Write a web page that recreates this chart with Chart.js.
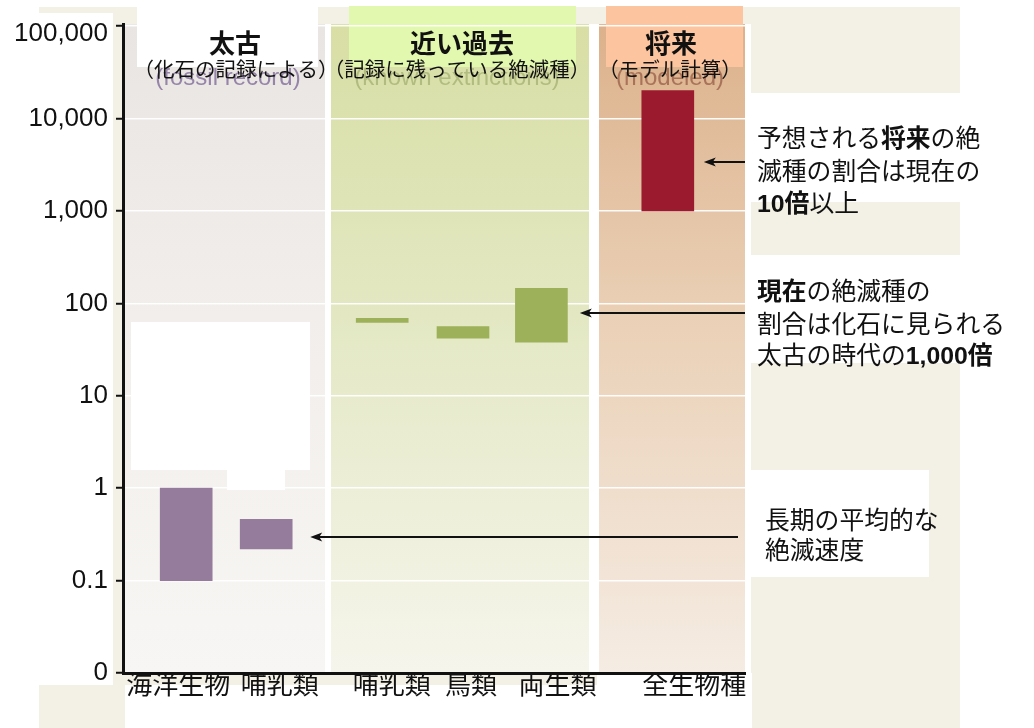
<!DOCTYPE html>
<html><head><meta charset="utf-8">
<script src="https://cdn.jsdelivr.net/npm/chart.js@4"></script>
<style>html,body{margin:0;padding:0;background:#fff}#wrap{width:1034px;height:728px;position:relative}canvas{display:block}</style>
</head><body><div id="wrap"><canvas id="c" width="1034" height="728"></canvas></div>
<script>
// ---- data ----
const categories = ['海洋生物','哺乳類','哺乳類','鳥類','両生類','全生物種'];
const barPositions = [0.79, 1.79, 3.24, 4.25, 5.23, 6.81];
const labelPositions = [0.69, 1.96, 3.36, 4.35, 5.43, 7.14];
const rateLow  = [0.1, 0.22, 62, 42, 38, 1000];
const rateHigh = [1.0, 0.46, 69, 56, 145, 20000];
const yTickValues = [0.01, 0.1, 1, 10, 100, 1000, 10000, 100000];
const yTickLabels = ['0', '0.1', '1', '10', '100', '1,000', '10,000', '100,000'];
const periods = ['太古', '近い過去', '将来'];
const periodNotes = ['（化石の記録による）', '（記録に残っている絶滅種）', '（モデル計算）'];
const periodGhost = ['(fossil record)', '(known extinctions)', '(modeled)'];
const periodStart = [0.0125, 2.6, 5.95];
const periodEnd = [2.525, 5.825, 7.775];
const arrowValues = [3400, 78, 0.295];
const arrowTips = [7.26, 5.71, 2.34];

// ---- styles ----
const FONT = '"Liberation Sans", Arial, "Noto Sans CJK JP", sans-serif';
const JFONT = '"Noto Sans CJK JP", "Liberation Sans", sans-serif';
const barColors = ['#967c9c','#967c9c','#9db05a','#9db05a','#9db05a','#9c1a2e'];
const bandStops = [
  ['#e9e5e2','#f1eeeb','#f8f6f4'],
  ['#d8dea4','#e3e8c3','#f6f5ec'],
  ['#dcb18b','#ead0b6','#f5ece3']
];
const headerBox = [
  {x:137,y:7,w:181,h:60,c:'#ffffff'},
  {x:349,y:6,w:227,h:61,c:'#e1f8ae'},
  {x:606,y:6,w:137,h:61,c:'#fcc59f'}
];
const headerCenters = [235, 462, 671];
const noteCenters = [236, 457, 670];
const ghostColors = ['rgba(120,100,150,0.75)','rgba(160,172,110,0.7)','rgba(150,92,70,0.75)'];
const BEIGE = '#f3f1e5';

function drawRich(ctx, x, y, segs, size) {
  ctx.textBaseline = 'middle';
  ctx.textAlign = 'left';
  ctx.fillStyle = '#111';
  for (const [t, b] of segs) {
    ctx.font = (b ? 'bold ' : '') + size + 'px ' + FONT;
    ctx.fillText(t, x, y);
    x += ctx.measureText(t).width;
  }
}
function arrow(ctx, x1, y, x2) {
  ctx.save();
  ctx.strokeStyle = '#111'; ctx.fillStyle = '#111'; ctx.lineWidth = 2;
  ctx.beginPath(); ctx.moveTo(x1, y); ctx.lineTo(x2 + 8, y); ctx.stroke();
  ctx.beginPath(); ctx.moveTo(x2, y); ctx.lineTo(x2 + 12, y - 4.5); ctx.lineTo(x2 + 9, y); ctx.lineTo(x2 + 12, y + 4.5); ctx.closePath(); ctx.fill();
  ctx.restore();
}

const decor = {
  id: 'decor',
  beforeDraw(chart) {
    const ctx = chart.ctx, a = chart.chartArea, xs = chart.scales.x;
    ctx.save();
    ctx.fillStyle = BEIGE; ctx.fillRect(39, 7, 921, 721);
    ctx.fillStyle = '#fff';
    ctx.fillRect(0, 13, 113, 672);
    ctx.fillRect(125, 685, 627, 43);
    ctx.fillRect(597, 673, 155, 12);
    ctx.fillRect(745, 93, 289, 109);
    ctx.fillRect(745, 255, 289, 108);
    ctx.fillRect(744, 470, 185, 107);
    ctx.fillRect(a.left, a.top, 751 - a.left, a.bottom - a.top);
    // bands
    for (let i = 0; i < periods.length; i++) {
      const x0 = xs.getPixelForValue(periodStart[i]), x1 = xs.getPixelForValue(periodEnd[i]);
      const g = ctx.createLinearGradient(0, a.top, 0, a.bottom);
      g.addColorStop(0, bandStops[i][0]); g.addColorStop(0.45, bandStops[i][1]); g.addColorStop(1, bandStops[i][2]);
      ctx.fillStyle = g; ctx.fillRect(x0, a.top, x1 - x0, a.bottom - a.top);
    }
    // ghost english subtitles
    ctx.textAlign = 'center'; ctx.textBaseline = 'alphabetic';
    for (let i = 0; i < periods.length; i++) {
      ctx.font = '24px ' + FONT; ctx.fillStyle = ghostColors[i];
      ctx.fillText(periodGhost[i], noteCenters[i] - 8 * (i === 0 ? 1 : 0), 85);
    }
    // header boxes + titles
    for (let i = 0; i < periods.length; i++) {
      const b = headerBox[i];
      ctx.fillStyle = b.c; ctx.fillRect(b.x, b.y, b.w, b.h);
    }
    ctx.fillStyle = '#111'; ctx.textBaseline = 'middle';
    for (let i = 0; i < periods.length; i++) {
      ctx.font = 'bold 26px ' + JFONT;
      ctx.fillText(periods[i], headerCenters[i], 43);
      ctx.font = '20.5px ' + JFONT;
      ctx.fillText(periodNotes[i], noteCenters[i], 69);
    }
    ctx.restore();
  },
  beforeDatasetsDraw(chart) {
    const ctx = chart.ctx;
    ctx.save(); ctx.fillStyle = '#fff';
    ctx.fillRect(131, 322, 179, 148);
    ctx.fillRect(227, 470, 58, 20);
    ctx.restore();
  },
  afterDraw(chart) {
    const ctx = chart.ctx, a = chart.chartArea, xs = chart.scales.x, ys = chart.scales.y;
    ctx.save();
    const starts = [a.right, a.right, a.right - 7];
    for (let i = 0; i < arrowValues.length; i++) {
      arrow(ctx, starts[i], Math.round(ys.getPixelForValue(arrowValues[i])), xs.getPixelForValue(arrowTips[i]));
    }
    const S = 24.8;
    drawRich(ctx, 757, 140, [['予想される', false], ['将来', true], ['の絶', false]], S);
    drawRich(ctx, 757, 173, [['滅種の割合は現在の', false]], S);
    drawRich(ctx, 757, 205, [['10倍', true], ['以上', false]], S);
    drawRich(ctx, 757, 293, [['現在', true], ['の絶滅種の', false]], S);
    drawRich(ctx, 757, 326, [['割合は化石に見られる', false]], S);
    drawRich(ctx, 757, 357, [['太古の時代の', false], ['1,000倍', true]], S);
    drawRich(ctx, 765, 522, [['長期の平均的な', false]], S);
    drawRich(ctx, 765, 552, [['絶滅速度', false]], S);
    ctx.restore();
  }
};

const lastY = yTickValues.length - 1;

new Chart(document.getElementById('c'), {
  type: 'bar',
  data: {
    datasets: [{
      data: barPositions.map((x, i) => ({ x: x, y: [rateLow[i], rateHigh[i]] })),
      backgroundColor: barColors,
      borderWidth: 0,
      barThickness: 52
    }]
  },
  options: {
    responsive: false,
    animation: false,
    devicePixelRatio: 1,
    layout: { padding: { top: 24, right: 289, left: 0, bottom: 0 } },
    plugins: { legend: { display: false }, tooltip: { enabled: false } },
    scales: {
      x: {
        type: 'linear', min: 0, max: 7.775, offset: false,
        afterBuildTicks: s => { s.ticks = labelPositions.map(v => ({ value: v })); },
        afterFit: s => { s.height = 55; },
        grid: { display: false, drawTicks: false, offset: false },
        border: { display: true, color: '#111', width: 3 },
        ticks: { autoSkip: false, maxRotation: 0, padding: -4, color: '#111',
          font: { size: 26, family: JFONT }, callback: (v, i) => categories[i] }
      },
      y: {
        type: 'logarithmic', min: 0.01, max: 105000,
        afterBuildTicks: s => { s.ticks = yTickValues.map(v => ({ value: v })); },
        afterFit: s => { s.width = 123; },
        grid: { color: 'rgba(255,255,255,0.95)', lineWidth: 1.5, tickColor: '#111', tickWidth: 2, tickLength: 7 },
        border: { color: '#111', width: 3 },
        ticks: { padding: 8, color: '#111',
          font: c => ({ size: 26, family: FONT, lineHeight: c.index === lastY ? 0.62 : 1.2 }),
          callback: (v, i) => i === lastY ? ['', yTickLabels[i]] : yTickLabels[i] }
      }
    }
  },
  plugins: [decor]
});
</script>
</body></html>
